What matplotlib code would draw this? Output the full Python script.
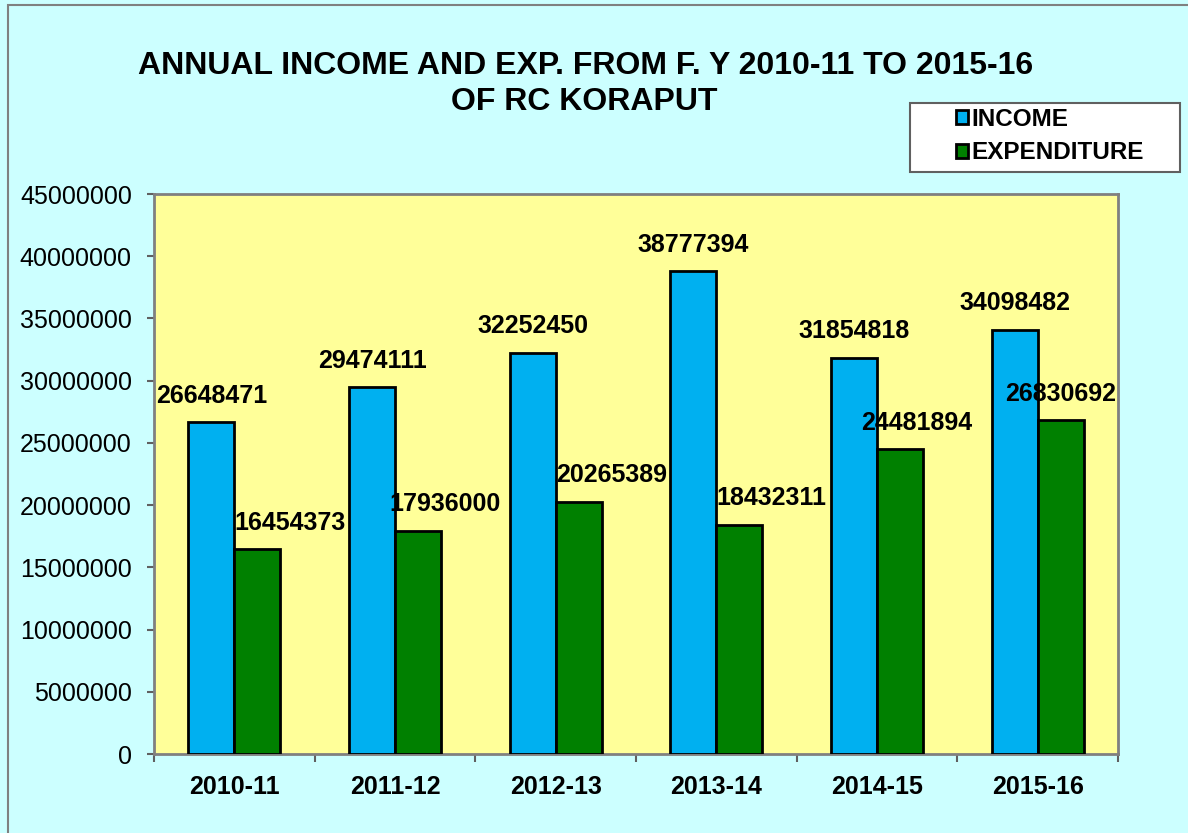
import numpy as np
import matplotlib.pyplot as plt
from matplotlib.patches import Rectangle

plt.rcParams['font.family'] = ['Liberation Sans', 'DejaVu Sans']

# data
years = ['2010-11', '2011-12', '2012-13', '2013-14', '2014-15', '2015-16']
income = [26648471, 29474111, 32252450, 38777394, 31854818, 34098482]
expenditure = [16454373, 17936000, 20265389, 18432311, 24481894, 26830692]
# horizontal nudges (px) of the expenditure labels, as placed in the original
exp_nudge = [33, 27, 33, 32, 17, 0]

fig = plt.figure(figsize=(11.88, 8.33), dpi=100, facecolor='#CCFFFF')

# outer chart border
fig.patches.append(Rectangle((8 / 1188, -0.01), 1.02, 1 - 5 / 833 + 0.01,
                             transform=fig.transFigure, fill=False,
                             edgecolor='#808080', lw=1.5))

ax = fig.add_axes([154 / 1188, 1 - 754 / 833, (1118 - 154) / 1188, (754 - 194) / 833])
ax.set_facecolor('#FFFF99')

x = np.arange(len(years))
w = 0.286
b1 = ax.bar(x - w / 2, income, w, color='#00B0F0', edgecolor='black', lw=2, label='INCOME', zorder=3)
b2 = ax.bar(x + w / 2, expenditure, w, color='#008000', edgecolor='black', lw=2, label='EXPENDITURE', zorder=3)

for xi, v in zip(x, income):
    ax.annotate(str(v), (xi - w / 2, v), xytext=(0, 19), textcoords='offset points',
                ha='center', va='center', fontsize=18, fontweight='bold', zorder=4)
for xi, v, dx in zip(x, expenditure, exp_nudge):
    ax.annotate(str(v), (xi + w / 2, v), xytext=(dx * 0.72, 19), textcoords='offset points',
                ha='center', va='center', fontsize=18, fontweight='bold', zorder=4)

ax.set_xlim(-0.5, len(years) - 0.5)
ax.set_ylim(0, 45000000)
ax.set_yticks(np.arange(0, 45000001, 5000000))
ax.yaxis.set_major_formatter(plt.FuncFormatter(lambda v, p: '%d' % v))
ax.tick_params(axis='y', labelsize=18, length=5, width=1.5, color='#606060', pad=11)

ax.set_xticks(np.arange(-0.5, len(years)), [''] * (len(years) + 1))
ax.set_xticks(x, years, minor=True)
ax.tick_params(axis='x', which='major', length=6, width=1.5, color='#606060')
ax.tick_params(axis='x', which='minor', length=0, labelsize=18, pad=15)
for lab in ax.get_xticklabels(minor=True):
    lab.set_fontweight('bold')

for s in ax.spines.values():
    s.set_color('#808080')
    s.set_linewidth(2)

fig.text(586 / 1188, 1 - 66 / 833, 'ANNUAL INCOME AND EXP. FROM F. Y 2010-11 TO 2015-16',
         ha='center', va='center', fontsize=23, fontweight='bold')
fig.text(584 / 1188, 1 - 102 / 833, 'OF RC KORAPUT',
         ha='center', va='center', fontsize=23, fontweight='bold')

# legend box
fig.patches.append(Rectangle((910 / 1188, 1 - 172 / 833), 270 / 1188, 69 / 833,
                             transform=fig.transFigure, facecolor='white',
                             edgecolor='#606060', lw=1.5, zorder=5))
leg = fig.legend(handles=[b1, b2], loc='center left', bbox_to_anchor=(934 / 1188, 1 - 136 / 833),
                 frameon=False, prop={'weight': 'bold', 'size': 17.5},
                 handlelength=0.5, handleheight=0.5, handletextpad=0.15, labelspacing=0.45)
leg.set_zorder(6)

fig.savefig('out.png', dpi=100, facecolor=fig.get_facecolor())
